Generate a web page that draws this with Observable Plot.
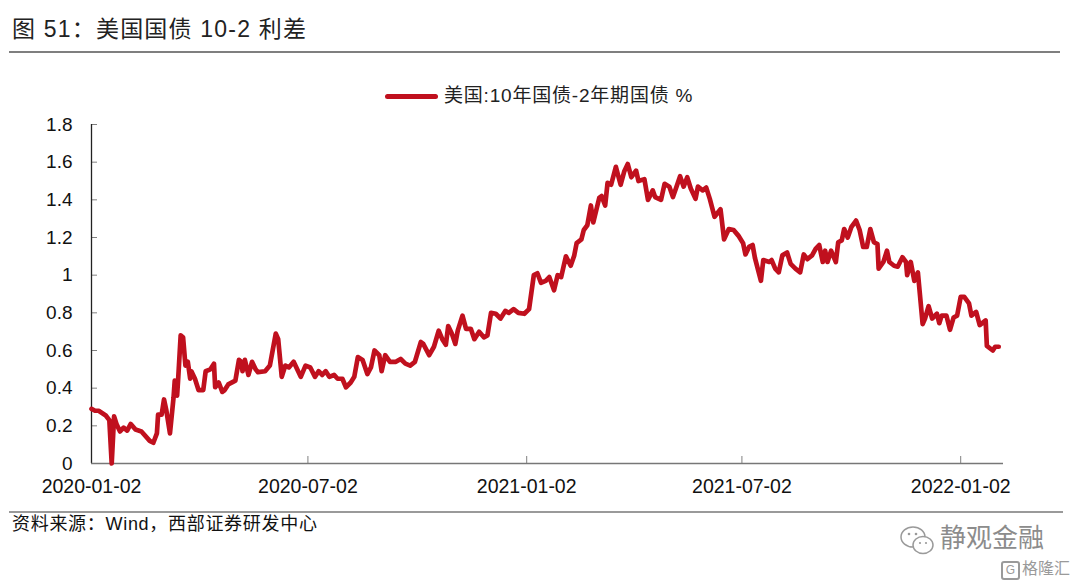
<!DOCTYPE html>
<html>
<head>
<meta charset="utf-8">
<script src="https://cdn.jsdelivr.net/npm/d3@7"></script>
<script src="https://cdn.jsdelivr.net/npm/@observablehq/plot@0.6"></script>
<style>
  html, body { margin: 0; padding: 0; background: #fff; }
  #wrap { position: relative; width: 1080px; height: 586px; overflow: hidden; background: #fff;
          font-family: "Liberation Sans", "Noto Sans CJK SC", sans-serif; color: #111; }
  .abs { position: absolute; }
  #title { left: 12px; top: 18px; font-size: 23px; line-height: 1; color: #222; letter-spacing: 1.2px; }
  #titleRule { left: 9px; top: 51px; width: 1051px; height: 2px; background: #7f7f7f; }
  #legSwatch { left: 385px; top: 94px; width: 53px; height: 5px; border-radius: 3px; background: #c0101e; }
  #legText { left: 444px; top: 86px; font-size: 19px; line-height: 1.1; color: #222; letter-spacing: 0.8px; }
  #chart { left: 0; top: 105px; }
  #footRule { left: 9px; top: 511px; width: 1054px; height: 2px; background: #9a9a9a; }
  #foot { left: 12px; top: 515px; font-size: 18px; line-height: 1.1; color: #111; letter-spacing: 0.7px; }
  #wm { left: 940px; top: 524px; font-size: 26px; line-height: 1.1; color: #8c8c8c; }
  #wmIcon { left: 898px; top: 524px; }
  #glh { left: 1022px; top: 560px; font-size: 16px; line-height: 1.1; color: #9a9a9a; }
  #glhBox { left: 1001px; top: 561px; width: 15px; height: 15px; border: 2px solid #9a9a9a; border-radius: 3px; font-size: 12px; line-height: 15px; text-align: center; color: #9a9a9a; }
</style>
</head>
<body>
<div id="wrap">
  <div id="title" class="abs">图 51：美国国债 10-2 利差</div>
  <div id="titleRule" class="abs"></div>
  <div id="legSwatch" class="abs"></div>
  <div id="legText" class="abs">美国:10年国债-2年期国债 %</div>
  <div id="chart" class="abs"></div>
  <div id="footRule" class="abs"></div>
  <div id="foot" class="abs">资料来源：Wind，西部证券研发中心</div>
  <svg id="wmIcon" class="abs" width="40" height="36" viewBox="0 0 40 36">
    <ellipse cx="15" cy="13" rx="12" ry="10" fill="none" stroke="#9a9a9a" stroke-width="1.5"/>
    <ellipse cx="25" cy="21" rx="10" ry="8.5" fill="#fff" stroke="#9a9a9a" stroke-width="1.5"/>
    <circle cx="11" cy="10" r="1.3" fill="#9a9a9a"/><circle cx="18" cy="10" r="1.3" fill="#9a9a9a"/>
    <circle cx="22" cy="19" r="1.1" fill="#9a9a9a"/><circle cx="28" cy="19" r="1.1" fill="#9a9a9a"/>
  </svg>
  <div id="wm" class="abs">静观金融</div>
  <div id="glhBox" class="abs">G</div>
  <div id="glh" class="abs">格隆汇</div>
</div>
<script>
// ---- data ----
const dates = [
"2020-01-02","2020-01-05","2020-01-08","2020-01-14","2020-01-17","2020-01-19","2020-01-21","2020-01-23","2020-01-26","2020-01-29",
"2020-02-01","2020-02-04","2020-02-08","2020-02-13","2020-02-20","2020-02-23","2020-02-26","2020-02-27","2020-03-01","2020-03-03",
"2020-03-05","2020-03-08","2020-03-11","2020-03-12","2020-03-14","2020-03-15","2020-03-17","2020-03-19","2020-03-21","2020-03-23",
"2020-03-25","2020-03-26","2020-03-29","2020-04-01","2020-04-05","2020-04-07","2020-04-11","2020-04-14","2020-04-15","2020-04-18",
"2020-04-21","2020-04-23","2020-04-26","2020-05-02","2020-05-05","2020-05-07","2020-05-08","2020-05-10","2020-05-13","2020-05-16",
"2020-05-19","2020-05-21","2020-05-27","2020-05-31","2020-06-05","2020-06-07","2020-06-10","2020-06-13","2020-06-16","2020-06-20",
"2020-06-23","2020-06-26","2020-06-30","2020-07-04","2020-07-08","2020-07-11","2020-07-14","2020-07-17","2020-07-20","2020-07-24",
"2020-07-27","2020-07-31","2020-08-03","2020-08-07","2020-08-10","2020-08-13","2020-08-17","2020-08-21","2020-08-24","2020-08-27",
"2020-08-31","2020-09-02","2020-09-05","2020-09-09","2020-09-14","2020-09-18","2020-09-22","2020-09-26","2020-09-30","2020-10-05",
"2020-10-07","2020-10-12","2020-10-16","2020-10-20","2020-10-23","2020-10-26","2020-10-28","2020-10-31","2020-11-03","2020-11-05",
"2020-11-09","2020-11-12","2020-11-16","2020-11-19","2020-11-23","2020-11-27","2020-11-30","2020-12-03","2020-12-07","2020-12-11",
"2020-12-15","2020-12-18","2020-12-22","2020-12-26","2020-12-31","2021-01-04","2021-01-08","2021-01-11","2021-01-14","2021-01-18",
"2021-01-21","2021-01-25","2021-01-28","2021-01-31","2021-02-04","2021-02-08","2021-02-11","2021-02-13","2021-02-17","2021-02-19",
"2021-02-22","2021-02-25","2021-02-27","2021-03-04","2021-03-06","2021-03-09","2021-03-11","2021-03-14","2021-03-18","2021-03-22",
"2021-03-25","2021-03-28","2021-03-31","2021-04-04","2021-04-06","2021-04-11","2021-04-14","2021-04-18","2021-04-20","2021-04-25",
"2021-04-28","2021-05-02","2021-05-05","2021-05-08","2021-05-11","2021-05-14","2021-05-17","2021-05-20","2021-05-24","2021-05-26",
"2021-05-30","2021-06-02","2021-06-05","2021-06-09","2021-06-14","2021-06-17","2021-06-21","2021-06-25","2021-06-29","2021-07-03",
"2021-07-05","2021-07-08","2021-07-11","2021-07-13","2021-07-18","2021-07-20","2021-07-25","2021-07-27","2021-07-30","2021-08-02",
"2021-08-05","2021-08-09","2021-08-12","2021-08-16","2021-08-20","2021-08-23","2021-08-26","2021-08-30","2021-09-02","2021-09-05",
"2021-09-08","2021-09-10","2021-09-12","2021-09-15","2021-09-19","2021-09-21","2021-09-24","2021-09-26","2021-09-29","2021-10-02",
"2021-10-06","2021-10-09","2021-10-12","2021-10-15","2021-10-18","2021-10-21","2021-10-24","2021-10-25","2021-10-29","2021-11-01",
"2021-11-03","2021-11-07","2021-11-10","2021-11-14","2021-11-17","2021-11-18","2021-11-21","2021-11-24","2021-11-27","2021-12-01",
"2021-12-03","2021-12-06","2021-12-09","2021-12-13","2021-12-15","2021-12-17","2021-12-21","2021-12-24","2021-12-27","2021-12-30",
"2022-01-02","2022-01-05","2022-01-09","2022-01-11","2022-01-15","2022-01-18","2022-01-23","2022-01-24","2022-01-29","2022-01-31",
"2022-02-03"
];
const spread = [
0.29,0.28,0.28,0.255,0.23,0.00,0.25,0.21,0.17,0.19,
0.175,0.21,0.18,0.17,0.12,0.11,0.16,0.26,0.26,0.34,
0.28,0.16,0.35,0.44,0.36,0.46,0.68,0.67,0.52,0.54,
0.45,0.49,0.45,0.39,0.39,0.49,0.50,0.53,0.405,0.43,
0.38,0.39,0.42,0.44,0.55,0.54,0.49,0.55,0.47,0.54,
0.50,0.485,0.49,0.52,0.69,0.66,0.46,0.52,0.51,0.54,
0.50,0.46,0.52,0.51,0.46,0.49,0.47,0.49,0.46,0.47,
0.45,0.45,0.405,0.43,0.46,0.565,0.55,0.475,0.51,0.60,
0.575,0.49,0.575,0.54,0.54,0.555,0.53,0.52,0.54,0.645,
0.635,0.575,0.62,0.705,0.66,0.63,0.73,0.69,0.635,0.705,
0.785,0.715,0.715,0.66,0.70,0.67,0.68,0.80,0.795,0.77,
0.81,0.80,0.82,0.80,0.795,0.82,1.00,1.01,0.96,0.97,
0.99,0.92,1.00,0.99,1.10,1.05,1.105,1.17,1.19,1.24,
1.265,1.37,1.28,1.41,1.42,1.37,1.49,1.48,1.575,1.48,
1.55,1.59,1.52,1.555,1.50,1.51,1.40,1.45,1.415,1.40,
1.485,1.47,1.415,1.47,1.525,1.47,1.52,1.46,1.405,1.47,
1.45,1.465,1.405,1.31,1.35,1.19,1.245,1.24,1.21,1.17,
1.11,1.15,1.16,1.09,0.97,1.08,1.07,1.08,1.035,1.015,
1.105,1.12,1.06,1.035,1.015,1.11,1.085,1.105,1.14,1.16,
1.07,1.13,1.07,1.13,1.07,1.175,1.185,1.245,1.20,1.255,
1.29,1.24,1.15,1.15,1.245,1.175,1.165,1.035,1.07,1.13,
1.07,1.05,1.045,1.095,1.07,1.00,1.07,0.97,1.015,0.74,
0.77,0.835,0.77,0.795,0.745,0.785,0.785,0.71,0.775,0.785,
0.885,0.885,0.85,0.785,0.805,0.735,0.76,0.625,0.60,0.62,
0.62
];
const xTickDates = ["2020-01-02","2020-07-02","2021-01-02","2021-07-02","2022-01-02"];
const xDomain = ["2020-01-02","2022-02-07"];
const yTicks = [0,0.2,0.4,0.6,0.8,1,1.2,1.4,1.6,1.8];
const yDomain = [0, 1.8];

// ---- build ----
const rows = dates.map((d, i) => ({date: new Date(d + "T00:00:00Z"), v: spread[i]}));
const xTicks = xTickDates.map(d => new Date(d + "T00:00:00Z"));
const xDom = xDomain.map(d => new Date(d + "T00:00:00Z"));
const fmtY = d => String(+d.toFixed(1));
const fmtX = d3.utcFormat("%Y-%m-%d");
const RED = "#c0101e";

const chart = Plot.plot({
  width: 1080,
  height: 400,
  marginTop: 19,
  marginBottom: 42,
  marginLeft: 91,
  marginRight: 77,
  style: {fontFamily: '"Liberation Sans", Arial, sans-serif', fontSize: "19px", color: "#111", background: "transparent", overflow: "visible"},
  x: {type: "utc", domain: xDom, label: null},
  y: {domain: yDomain, label: null},
  marks: [
    // inward tick marks
    Plot.axisY(yTicks, {anchor: "left", tickSize: 6, dx: 6, fill: "none", stroke: "#808080", label: null}),
    Plot.axisX(xTicks, {anchor: "bottom", tickSize: 7, dy: -7, fill: "none", stroke: "#808080", label: null}),
    // tick labels
    Plot.axisY(yTicks, {anchor: "left", tickSize: 0, tickPadding: 19, tickFormat: fmtY, fontSize: 19, fill: "#111", label: null}),
    Plot.axisX(xTicks, {anchor: "bottom", tickSize: 0, tickPadding: 16, tickFormat: fmtX, fontSize: 19.5, fill: "#111", label: null}),
    // axis lines
    Plot.ruleX([xDom[0]], {stroke: "#222", strokeWidth: 1.3}),
    Plot.ruleY([yDomain[0]], {stroke: "#777", strokeWidth: 1.6}),
    // series
    Plot.line(rows, {x: "date", y: "v", stroke: RED, strokeWidth: 4.7, strokeLinejoin: "round", strokeLinecap: "round"})
  ]
});
document.getElementById("chart").appendChild(chart);
</script>
</body>
</html>
